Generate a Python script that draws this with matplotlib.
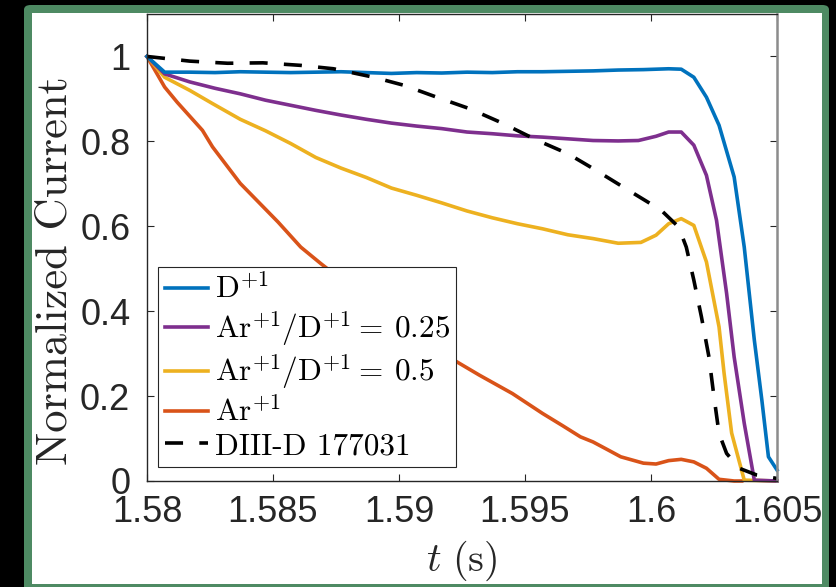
import matplotlib
matplotlib.use("Agg")
import matplotlib.pyplot as plt
from matplotlib.patches import FancyBboxPatch, Rectangle

plt.rcParams['font.family'] = 'Liberation Sans'
plt.rcParams['mathtext.fontset'] = 'cm'
plt.rcParams['axes.unicode_minus'] = False

# D+1
t_d = [1.58, 1.5807, 1.5817, 1.5827, 1.5837, 1.5847, 1.5857, 1.5867, 1.5877, 1.5887,
       1.5897, 1.5907, 1.5917, 1.5927, 1.5937, 1.5947, 1.5957, 1.5967, 1.5977, 1.5987,
       1.5997, 1.6007, 1.6012, 1.6017, 1.6022, 1.6027, 1.6033, 1.6037, 1.6041, 1.6044,
       1.60466, 1.605]
y_d = [1.0, 0.963, 0.963, 0.962, 0.964, 0.963, 0.962, 0.963, 0.964, 0.962,
       0.960, 0.962, 0.961, 0.963, 0.962, 0.964, 0.964, 0.965, 0.966, 0.968,
       0.969, 0.971, 0.970, 0.951, 0.904, 0.838, 0.716, 0.551, 0.332, 0.19,
       0.057, 0.026]

# Ar+1/D+1 = 0.25
t_q = [1.58, 1.5807, 1.5817, 1.5827, 1.5837, 1.5847, 1.5857, 1.5867, 1.5877, 1.5887,
       1.5897, 1.5907, 1.5917, 1.5927, 1.5937, 1.5947, 1.5957, 1.5967, 1.5977, 1.5987,
       1.5995, 1.6002, 1.6007, 1.6012, 1.6017, 1.6022, 1.6026, 1.603, 1.6033, 1.6037,
       1.6041, 1.605]
y_q = [1.0, 0.959, 0.940, 0.925, 0.912, 0.897, 0.885, 0.873, 0.862, 0.852,
       0.843, 0.836, 0.830, 0.822, 0.818, 0.813, 0.810, 0.806, 0.802, 0.801,
       0.802, 0.812, 0.822, 0.822, 0.791, 0.720, 0.614, 0.442, 0.292, 0.136,
       0.002, 0.0]

# Ar+1/D+1 = 0.5
t_h = [1.58, 1.5807, 1.5817, 1.5826, 1.5837, 1.5847, 1.5857, 1.5867, 1.5877, 1.5887,
       1.5897, 1.5907, 1.5917, 1.5927, 1.5937, 1.5947, 1.5957, 1.5967, 1.5977, 1.5987,
       1.5996, 1.6002, 1.6007, 1.6012, 1.6017, 1.6022, 1.6027, 1.6029, 1.6032, 1.6037,
       1.605]
y_h = [1.0, 0.951, 0.920, 0.889, 0.852, 0.825, 0.795, 0.762, 0.737, 0.715,
       0.690, 0.673, 0.655, 0.636, 0.620, 0.606, 0.594, 0.580, 0.571, 0.560,
       0.562, 0.579, 0.606, 0.618, 0.602, 0.516, 0.363, 0.254, 0.113, 0.002,
       0.0]

# Ar+1
t_a = [1.58, 1.5807, 1.5812, 1.5822, 1.5826, 1.5837, 1.5852, 1.5861, 1.5869, 1.5885,
       1.59, 1.5912, 1.5924, 1.5932, 1.5945, 1.5957, 1.5965, 1.5972, 1.5977, 1.5983,
       1.5988, 1.5997, 1.6002, 1.6007, 1.6012, 1.6017, 1.6022, 1.6027, 1.6033, 1.6036]
y_a = [1.0, 0.928, 0.892, 0.826, 0.787, 0.701, 0.610, 0.551, 0.512, 0.438,
       0.372, 0.320, 0.277, 0.249, 0.206, 0.159, 0.130, 0.104, 0.092, 0.073,
       0.057, 0.042, 0.040, 0.048, 0.051, 0.045, 0.030, 0.004, 0.0, 0.0]

# DIII-D 177031
t_exp = [1.58, 1.5817, 1.5832, 1.5846, 1.5861, 1.5874, 1.589, 1.5902, 1.5915, 1.5928,
         1.5941, 1.5955, 1.5967, 1.5977, 1.5991, 1.6004, 1.6011, 1.6014, 1.6017, 1.602,
         1.6023, 1.6025, 1.6027, 1.603, 1.6035, 1.6042, 1.605]
y_exp = [1.0, 0.989, 0.984, 0.985, 0.979, 0.971, 0.951, 0.932, 0.904, 0.877,
         0.843, 0.802, 0.771, 0.736, 0.685, 0.638, 0.598, 0.551, 0.473, 0.387,
         0.292, 0.198, 0.112, 0.065, 0.030, 0.014, 0.006]

labels = [r'$\mathrm{D}^{+1}$',
          r'$\mathrm{Ar}^{+1}/\mathrm{D}^{+1} =\:0.25$',
          r'$\mathrm{Ar}^{+1}/\mathrm{D}^{+1} =\:0.5$',
          r'$\mathrm{Ar}^{+1}$',
          'DIII-D 177031']

xticks = [1.58, 1.585, 1.59, 1.595, 1.6, 1.605]
xticklabels = ['1.58', '1.585', '1.59', '1.595', '1.6', '1.605']
yticks = [0, 0.2, 0.4, 0.6, 0.8, 1]
yticklabels = ['0', '0.2', '0.4', '0.6', '0.8', '1']

W, H = 836, 587
fig = plt.figure(figsize=(W / 100, H / 100), dpi=100, facecolor='black')

# green frame + white panel behind the axes
fig.patches.append(FancyBboxPatch((24 / W, -0.02), 805 / W, 1.02 - 5 / H,
                                  boxstyle='round,pad=0,rounding_size=0.008',
                                  transform=fig.transFigure, facecolor='#4e8a63',
                                  edgecolor='none', zorder=-2))
fig.patches.append(Rectangle((32 / W, 1 - 584 / H), 790 / W, 571 / H,
                             transform=fig.transFigure, facecolor='white',
                             edgecolor='none', zorder=-1))

ax = fig.add_axes([147 / W, 1 - 481 / H, 630 / W, 467 / H])
ax.set_facecolor('white')

lw = 2.6
h_a, = ax.plot(t_a, y_a, color='#D95319', lw=lw, zorder=2.1, clip_on=False)
h_h, = ax.plot(t_h, y_h, color='#EDB120', lw=lw, zorder=2.2, clip_on=False)
h_q, = ax.plot(t_q, y_q, color='#7E2F8E', lw=lw, zorder=2.3, clip_on=False)
h_d, = ax.plot(t_d, y_d, color='#0072BD', lw=lw, zorder=2.4, clip_on=False)
h_e, = ax.plot(t_exp, y_exp, color='black', lw=lw, ls=(0, (5, 4.5)), zorder=2.5,
               clip_on=False)

ax.set_xlim(1.58, 1.605)
ax.set_ylim(0, 1.1)
ax.set_xticks(xticks)
ax.set_xticklabels(xticklabels)
ax.set_yticks(yticks)
ax.set_yticklabels(yticklabels)
ax.tick_params(direction='in', length=5, width=0.8, colors='#262626',
               labelsize=26, top=True, right=True)
ax.tick_params(axis='x', pad=10)
ax.tick_params(axis='y', pad=12)
for s in ['left', 'bottom', 'top']:
    ax.spines[s].set_color('#262626')
    ax.spines[s].set_linewidth(1.0)
ax.spines['right'].set_color('#8c8c8c')
ax.spines['right'].set_linewidth(1.8)

ax.set_ylabel('Normalized Current', family='cmr10', fontsize=32, color='#262626')
ax.yaxis.set_label_coords(-0.114, 0.45)
ax.set_xlabel(r'$t\ (\mathrm{s})$', fontsize=29, color='#262626', labelpad=6)

leg = ax.legend([h_d, h_q, h_h, h_a, h_e], labels,
                prop={'family': 'cmr10', 'size': 22.5},
                loc='lower left', bbox_to_anchor=(0.017, 0.03),
                fancybox=False, framealpha=1, edgecolor='#262626',
                handlelength=1.4, handletextpad=0.2, labelspacing=0.14,
                borderpad=0.22, borderaxespad=0)
leg.get_frame().set_linewidth(0.8)

fig.savefig('out.png', dpi=100, facecolor=fig.get_facecolor())
